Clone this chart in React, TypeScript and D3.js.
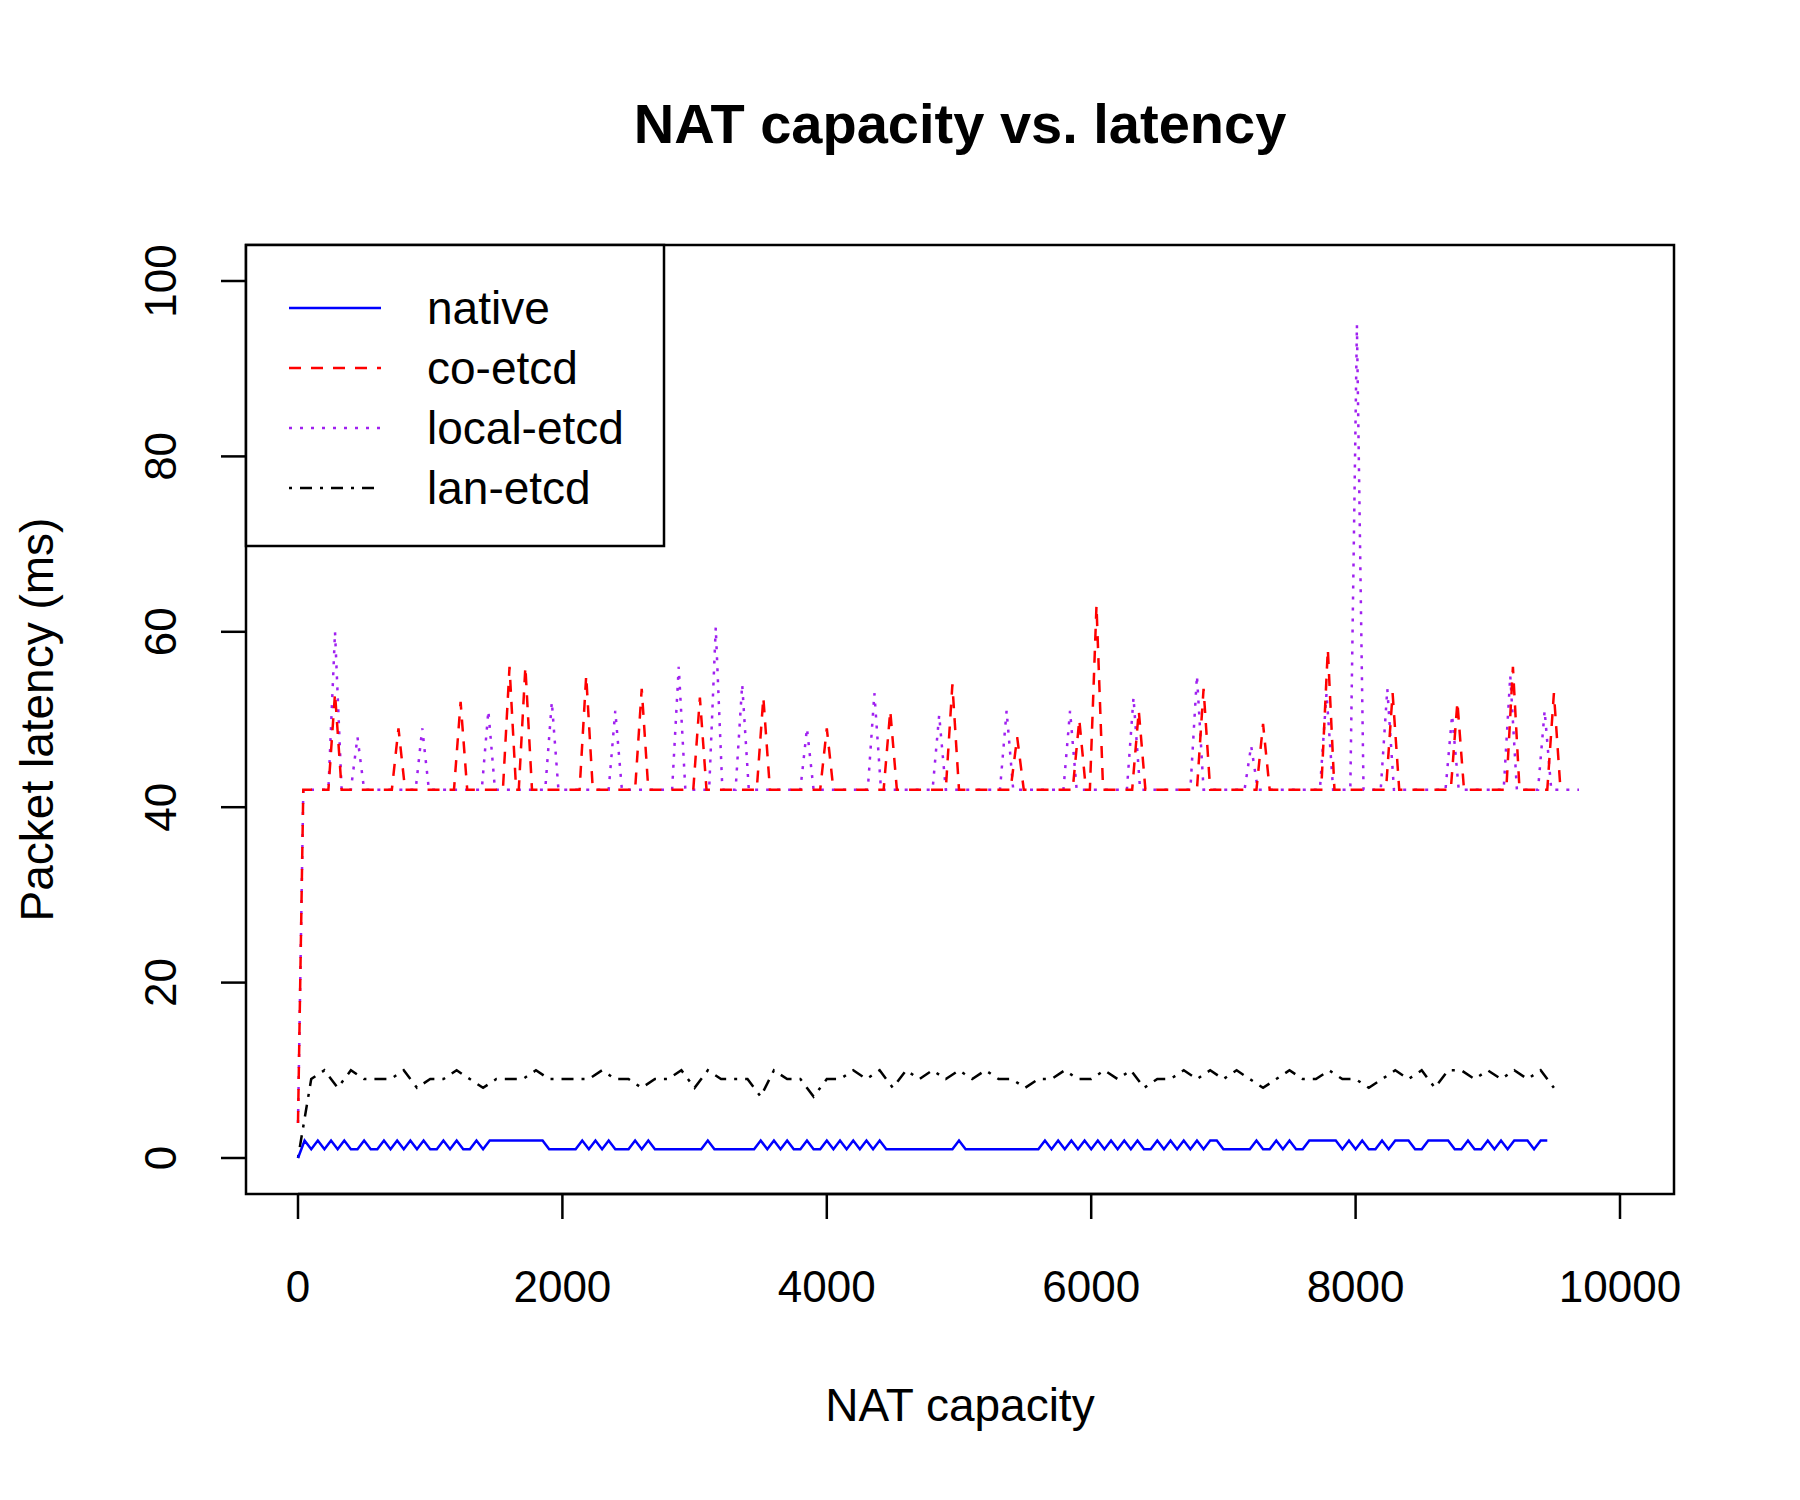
import React from 'react'
import * as d3 from 'd3'

type Pt = [number, number]

const seriesNames = ['native', 'co-etcd', 'local-etcd', 'lan-etcd']
const seriesColors = ['#0000ff', '#ff0000', '#a020f0', '#000000']
const seriesDash = ['none', '12,10', '3,8', '3,8,12,8']

// spikes: [capacity, peak latency]
const coSpikes: Pt[] = [
  [280, 53], [760, 49], [1230, 52], [1600, 56], [1720, 56], [2180, 55], [2600, 53.5],
  [3040, 52.5], [3520, 52.5], [4000, 49], [4480, 51], [4950, 54], [5440, 48], [5910, 50],
  [6040, 63], [6360, 51], [6850, 53.5], [7300, 49.5], [7790, 58], [8280, 53], [8770, 52],
  [9190, 56], [9500, 53],
]
const localSpikes: Pt[] = [
  [280, 60], [450, 48], [940, 49], [1440, 51], [1920, 52], [2400, 51], [2880, 56],
  [3160, 60.5], [3360, 54], [3850, 49], [4360, 53], [4850, 50.5], [5360, 51], [5840, 51],
  [6320, 52.5], [6800, 55], [7210, 47], [7780, 53], [8010, 95], [8240, 53.5], [8730, 50.5],
  [9170, 55], [9430, 51],
]
const coEnd = 9560
const localEnd = 9690

// native: alternating 1/2 ms, sampled every 50
const nativeValues = [
  0, 2, 1, 2, 1, 2, 1, 2, 1, 1, 2, 1, 1, 2, 1, 2, 1, 2, 1, 2, 1, 1, 2, 1, 2, 1, 1, 2, 1, 2,
  2, 2, 2, 2, 2, 2, 2, 2, 1, 1, 1, 1, 1, 2, 1, 2, 1, 2, 1, 1, 1, 2, 1, 2, 1, 1, 1, 1, 1, 1,
  1, 1, 2, 1, 1, 1, 1, 1, 1, 1, 2, 1, 2, 1, 2, 1, 1, 2, 1, 1, 2, 1, 2, 1, 2, 1, 2, 1, 2, 1,
  1, 1, 1, 1, 1, 1, 1, 1, 1, 1, 2, 1, 1, 1, 1, 1, 1, 1, 1, 1, 1, 1, 1, 2, 1, 2, 1, 2, 1, 2,
  1, 2, 1, 2, 1, 2, 1, 2, 1, 1, 2, 1, 2, 1, 2, 1, 2, 1, 2, 2, 1, 1, 1, 1, 1, 2, 1, 1, 2, 1,
  2, 1, 1, 2, 2, 2, 2, 2, 1, 2, 1, 2, 1, 1, 2, 1, 2, 2, 2, 1, 1, 2, 2, 2, 2, 1, 1, 2, 1, 1,
  2, 1, 2, 1, 2, 2, 2, 1, 2, 2,
]
const nativeStep = 50

// lan-etcd: sampled every 100
const lanValues = [
  0, 9, 10, 8, 10, 9, 9, 9, 10, 8, 9, 9, 10, 9, 8, 9, 9, 9, 10, 9, 9, 9, 9, 10, 9, 9, 8, 9, 9, 10,
  8, 10, 9, 9, 9, 7, 10, 9, 9, 7, 9, 9, 10, 9, 10, 8, 10, 9, 10, 9, 10, 9, 10, 9, 9, 8, 9, 9, 10, 9,
  9, 10, 9, 10, 8, 9, 9, 10, 9, 10, 9, 10, 9, 8, 9, 10, 9, 9, 10, 9, 9, 8, 9, 10, 9, 10, 8, 10, 10, 9,
  10, 9, 10, 9, 10, 8,
]
const lanStep = 100

const xTicks = [0, 2000, 4000, 6000, 8000, 10000]
const yTicks = [0, 20, 40, 60, 80, 100]

function spikeSeries(spikes: Pt[], end: number): Pt[] {
  const pts: Pt[] = [[0, 4], [40, 42]]
  spikes.forEach(([x, y]) => {
    pts.push([x - 50, 42], [x, y], [x + 50, 42])
  })
  pts.push([end, 42])
  return pts
}

export default function App() {
  const W = 1800, H = 1500
  const L = 246, R = 1674, T = 245, B = 1194
  const x = d3.scaleLinear().domain([0, 10000]).range([298, 1620])
  const y = d3.scaleLinear().domain([0, 100]).range([1158, 281])
  const line = d3.line<Pt>().x((d) => x(d[0])).y((d) => y(d[1]))

  const data: Pt[][] = [
    nativeValues.map((v, i) => [i * nativeStep, v] as Pt),
    spikeSeries(coSpikes, coEnd),
    spikeSeries(localSpikes, localEnd),
    lanValues.map((v, i) => [i * lanStep, v] as Pt),
  ]
  const font = 'Liberation Sans, Arial, sans-serif'

  return (
    <svg width={W} height={H} style={{ display: 'block', position: 'absolute', left: 0, top: 0, fontFamily: font }}>
      <rect width={W} height={H} fill="white" />
      <text x={(L + R) / 2} y={143} textAnchor="middle" fontSize={56} fontWeight="bold">NAT capacity vs. latency</text>
      {[3, 0, 2, 1].map((i) => (
        <path key={i} d={line(data[i]) || ''} fill="none" stroke={seriesColors[i]} strokeWidth={2.5}
          strokeDasharray={seriesDash[i]} />
      ))}
      <rect x={L} y={T} width={R - L} height={B - T} fill="none" stroke="black" strokeWidth={2.5} />
      <line x1={x(0)} x2={x(10000)} y1={B} y2={B} stroke="black" strokeWidth={2.5} />
      {xTicks.map((t) => (
        <g key={t}>
          <line x1={x(t)} x2={x(t)} y1={B} y2={B + 25} stroke="black" strokeWidth={2.5} />
          <text x={x(t)} y={1302} textAnchor="middle" fontSize={44}>{t}</text>
        </g>
      ))}
      {yTicks.map((t) => (
        <g key={t}>
          <line x1={L - 25} x2={L} y1={y(t)} y2={y(t)} stroke="black" strokeWidth={2.5} />
          <text transform={`translate(176,${y(t)}) rotate(-90)`} textAnchor="middle" fontSize={44}>{t}</text>
        </g>
      ))}
      <text x={(L + R) / 2} y={1421} textAnchor="middle" fontSize={46}>NAT capacity</text>
      <text transform={`translate(53,${(T + B) / 2}) rotate(-90)`} textAnchor="middle" fontSize={46}>Packet latency (ms)</text>
      <rect x={L} y={T} width={418} height={301} fill="white" stroke="black" strokeWidth={2.5} />
      {seriesNames.map((n, i) => {
        const ly = 308 + i * 60
        return (
          <g key={n}>
            <line x1={289} x2={381} y1={ly} y2={ly} stroke={seriesColors[i]} strokeWidth={2.5} strokeDasharray={seriesDash[i]} />
            <text x={427} y={ly + 16} fontSize={46}>{n}</text>
          </g>
        )
      })}
    </svg>
  )
}
